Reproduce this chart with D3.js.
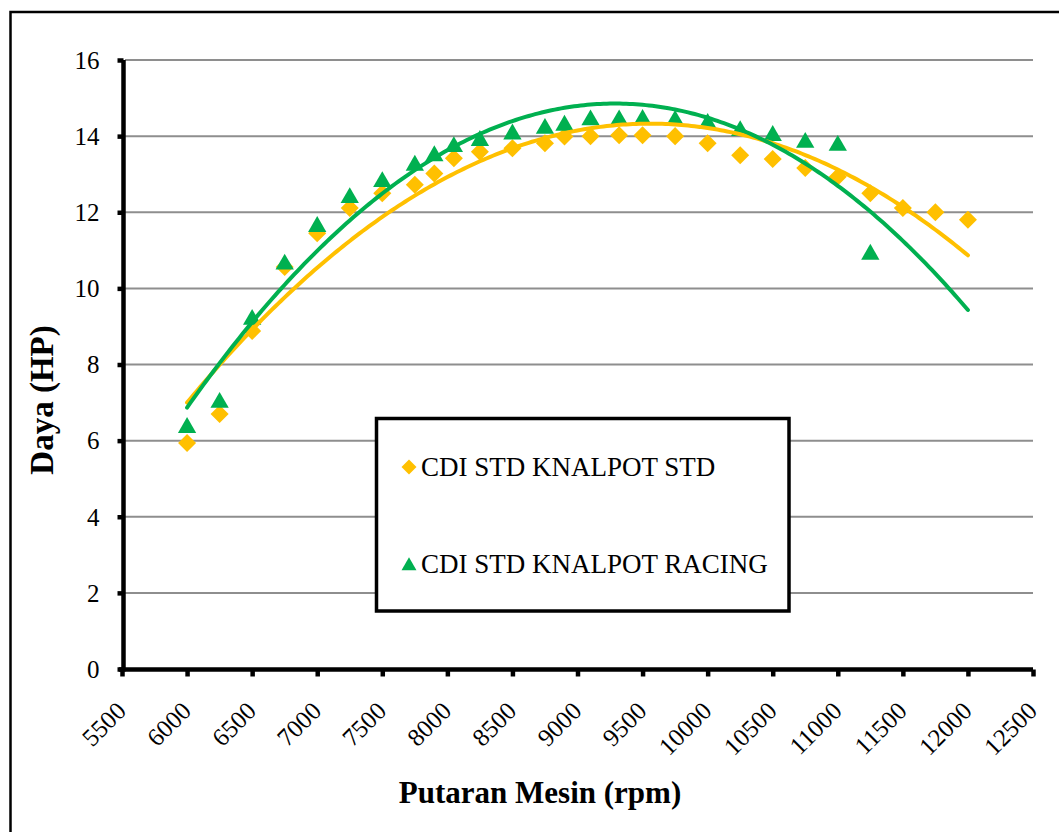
<!DOCTYPE html>
<html>
<head>
<meta charset="utf-8">
<script src="https://cdn.jsdelivr.net/npm/d3@7"></script>
</head>
<body style="margin:0">
<svg id="chart" width="1059" height="832" style="display:block"></svg>
<script>
// ---- data ----
const rpmStd = [6000,6250,6500,6750,7000,7250,7500,7750,7900,8050,8250,8500,8750,8900,9100,9320,9500,9750,10000,10250,10500,10750,11000,11250,11500,11750,12000];
const powerStd = [5.94,6.7,8.88,10.56,11.45,12.11,12.5,12.72,13.02,13.42,13.59,13.68,13.81,13.99,14.0,14.02,14.02,14.0,13.81,13.5,13.4,13.16,12.93,12.5,12.11,12.0,11.8];
const rpmRacing = [6000,6250,6500,6750,7000,7250,7500,7750,7900,8050,8250,8500,8750,8900,9100,9320,9500,9750,10000,10250,10500,10750,11000,11250];
const powerRacing = [6.41,7.07,9.25,10.7,11.69,12.45,12.87,13.3,13.55,13.79,13.95,14.12,14.27,14.35,14.49,14.49,14.5,14.48,14.4,14.21,14.08,13.9,13.82,10.96];
const seriesNames = ["CDI STD KNALPOT STD","CDI STD KNALPOT RACING"];
const xTicks = [5500,6000,6500,7000,7500,8000,8500,9000,9500,10000,10500,11000,11500,12000,12500];
const yTicks = [0,2,4,6,8,10,12,14,16];
const xTitle = "Putaran Mesin (rpm)";
const yTitle = "Daya (HP)";

const FONT = '"Liberation Serif"';
const colStd = "#FFC000", colRacing = "#00B050";

// ---- layers (z-order) ----
const svg = d3.select("#chart");
const gBack = svg.append("g");
const gMarks = svg.append("g");
const gAxes = svg.append("g");
const gLegend = svg.append("g");
const gText = svg.append("g");

const x = d3.scaleLinear().domain([5500,12500]).range([122,1033]);
const y = d3.scaleLinear().domain([0,16]).range([669,60]);

// ---- texts first ----
gText.append("text").attr("x",540).attr("y",803).attr("text-anchor","middle")
  .style("font-family",FONT).style("font-size","31px").style("font-weight","bold").text(xTitle);
gText.append("text").attr("transform","translate(53,400) rotate(-90)").attr("text-anchor","middle")
  .style("font-family",FONT).style("font-size","33px").style("font-weight","bold").text(yTitle);
const legendItems = [{name:seriesNames[0],col:colStd,sym:"d",yy:467},{name:seriesNames[1],col:colRacing,sym:"t",yy:564}];
legendItems.forEach(it=>{
  gText.append("text").attr("x",421).attr("y",it.yy+9).style("font-family",FONT).style("font-size","27px").text(it.name);
});

// axes
const yAxis = gAxes.append("g").attr("transform","translate(123.5,0)")
  .call(d3.axisLeft(y).tickValues(yTicks).tickSize(6).tickSizeOuter(0).tickFormat(d3.format("d")));
const xAxis = gAxes.append("g").attr("transform","translate(0,669.5)")
  .call(d3.axisBottom(x).tickValues(xTicks).tickSize(7).tickSizeOuter(0).tickFormat(d3.format("d")));
[yAxis,xAxis].forEach(g=>{
  g.attr("font-family",null).attr("font-size",null);
  g.select(".domain").attr("stroke","#000").attr("stroke-width",4.5);
  g.selectAll(".tick line").attr("stroke","#000").attr("stroke-width",4.5);
});
xAxis.select(".domain").attr("d","M119,0H"+x(12500));
yAxis.select(".domain").attr("d","M0,"+(y(16))+"V671.5");
yAxis.selectAll(".tick text").attr("x",-24).attr("dy","0.33em")
  .style("font-family",FONT).style("font-size","25px").attr("fill","#000");
xAxis.selectAll(".tick text").attr("y",0).attr("dy",0)
  .attr("text-anchor","end").attr("transform","translate(5,43) rotate(-45)")
  .style("font-family",FONT).style("font-size","25px").attr("fill","#000");

// ---- background ----
gBack.append("path").attr("d","M10.5,840 L10.5,12 L1070,12").attr("fill","none").attr("stroke","#000").attr("stroke-width",2.5);
gBack.selectAll("line").data(yTicks.filter(d=>d>0)).join("line")
  .attr("x1",125).attr("x2",x(12500)).attr("y1",d=>y(d)).attr("y2",d=>y(d))
  .attr("stroke","#8e8e8e").attr("stroke-width",2);

// quadratic least squares (polynomial trendline, order 2)
function polyfit2(xs, ys){
  const mx = d3.mean(xs);
  const u = xs.map(v=>(v-mx)/1000);
  let S=[0,0,0,0,0], T=[0,0,0];
  u.forEach((ui,i)=>{ for(let k=0;k<5;k++) S[k]+=Math.pow(ui,k); for(let k=0;k<3;k++) T[k]+=ys[i]*Math.pow(ui,k); });
  const A=[[S[0],S[1],S[2],T[0]],[S[1],S[2],S[3],T[1]],[S[2],S[3],S[4],T[2]]];
  for(let c=0;c<3;c++){
    for(let r=c+1;r<3;r++){ const f=A[r][c]/A[c][c]; for(let k=c;k<4;k++) A[r][k]-=f*A[c][k]; }
  }
  const b=[0,0,0];
  for(let r=2;r>=0;r--){ let s=A[r][3]; for(let k=r+1;k<3;k++) s-=A[r][k]*b[k]; b[r]=s/A[r][r]; }
  return v=>{ const t=(v-mx)/1000; return b[0]+b[1]*t+b[2]*t*t; };
}
const fitStd = polyfit2(rpmStd, powerStd);
const fitRacing = polyfit2(rpmRacing, powerRacing);
const curveX = d3.range(6000, 12000.1, 25);

// ---- marks ----
const diamond = d3.symbol().type(d3.symbolDiamond2).size(207);
const triangle = d3.symbol().type(d3.symbolTriangle2).size(240);
gMarks.append("g").selectAll("path").data(rpmStd.map((r,i)=>[r,powerStd[i]])).join("path")
  .attr("d",diamond).attr("transform",d=>`translate(${x(d[0])},${y(d[1])})`).attr("fill",colStd);
gMarks.append("g").selectAll("path").data(rpmRacing.map((r,i)=>[r,powerRacing[i]])).join("path")
  .attr("d",triangle).attr("transform",d=>`translate(${x(d[0])},${y(d[1])+2.6})`).attr("fill",colRacing);
const line = d3.line().x(d=>x(d[0])).y(d=>y(d[1]));
gMarks.append("path").datum(curveX.map(v=>[v,fitStd(v)])).attr("d",line)
  .attr("fill","none").attr("stroke",colStd).attr("stroke-width",4).attr("stroke-linecap","round");
gMarks.append("path").datum(curveX.map(v=>[v,fitRacing(v)])).attr("d",line)
  .attr("fill","none").attr("stroke",colRacing).attr("stroke-width",4).attr("stroke-linecap","round");

// ---- legend box + symbols ----
gLegend.append("rect").attr("x",376.5).attr("y",418.5).attr("width",412.5).attr("height",192.5)
  .attr("fill","#fff").attr("stroke","#000").attr("stroke-width",3.5);
legendItems.forEach(it=>{
  if(it.sym==="d"){
    gLegend.append("path").attr("d",d3.symbol().type(d3.symbolDiamond2).size(143)).attr("transform",`translate(409,${it.yy})`).attr("fill",it.col);
  } else {
    gLegend.append("path").attr("d",d3.symbol().type(d3.symbolTriangle2).size(160)).attr("transform",`translate(409,${it.yy+2})`).attr("fill",it.col);
  }
});
</script>
</body>
</html>
